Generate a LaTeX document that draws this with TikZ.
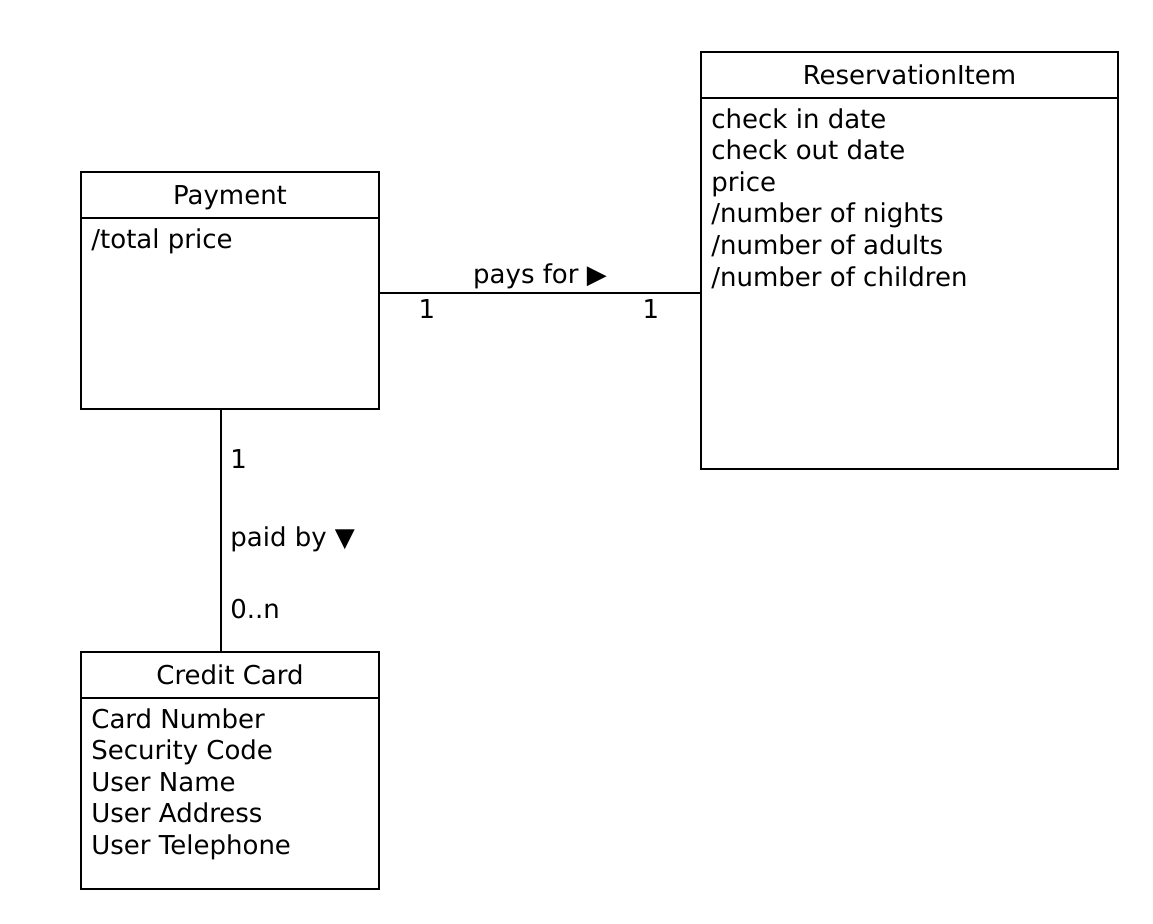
\documentclass[tikz,border=0pt]{standalone}
\usepackage{fontspec}
\setmainfont{DejaVu Sans}
\usetikzlibrary{positioning}
\tikzset{
    %Define style for class header boxes
    classhead/.style={
           rectangle,
           draw=black, line width=1pt,
           outer sep=0pt,
           inner sep=0pt,
           minimum width=149pt,
           minimum height=23pt,
           font=\fontsize{13}{15.8}\selectfont,
           text height=9.4pt, text depth=0pt,
           text centered,
           },
    %Define style for class bodies
    classbody/.style={
           rectangle,
           draw=black, line width=1pt,
           outer sep=0pt,
           inner sep=0pt,
           minimum width=149pt,
           },
    attrs/.style={
           align=left,
           inner xsep=5pt,
           inner ysep=5pt,
           font=\fontsize{13}{15.8}\selectfont,
           },
    mult/.style={
           inner sep=0pt,
           font=\fontsize{13}{15.8}\selectfont,
           },
    % Define connector style
    assoc/.style={
           draw=black, line width=1pt,
           },
}
\begin{document}
\begin{tikzpicture}[x=0.5pt,y=-0.5pt]
\useasboundingbox (0,0) rectangle (1153,923);

 %nodes
\node[classhead](pay) at (230,195){Payment};
\node[classbody, minimum height=95.5pt, below=0pt of pay](payb){};
\node[attrs, anchor=north west] at (payb.north west){/total price};

\node[classhead, minimum width=208.5pt](res) at (909.5,75){ReservationItem};
\node[classbody, minimum width=208.5pt, minimum height=185.5pt, below=0pt of res](resb){};
\node[attrs, anchor=north west] at (resb.north west){check in date\\check out date\\price\\/number of nights\\/number of adults\\/number of children};

\node[classhead](cc) at (230,675){Credit Card};
\node[classbody, minimum height=95.5pt, below=0pt of cc](ccb){};
\node[attrs, anchor=north west] at (ccb.north west){Card Number\\Security Code\\User Name\\User Address\\User Telephone};

 %connectors
\draw[assoc] ([yshift=10.25pt]payb.east) coordinate (pf) -- (pf -| resb.west);
\draw[assoc] ([xshift=-4.5pt]payb.south) coordinate (pb) -- (pb |- cc.north);

 %labels
\node[mult, anchor=base](pfl) at (540,283){pays for ▶};
\node[mult, anchor=base](pf1) at (427,318){1};
\node[mult, anchor=base](pf2) at (651,318){1};
\node[mult, anchor=base west](pb1) at (230,468){1};
\node[mult, anchor=base west](pbl) at (230,546){paid by ▼};
\node[mult, anchor=base west](pb2) at (230,618){0..n};

\end{tikzpicture}
\end{document}
